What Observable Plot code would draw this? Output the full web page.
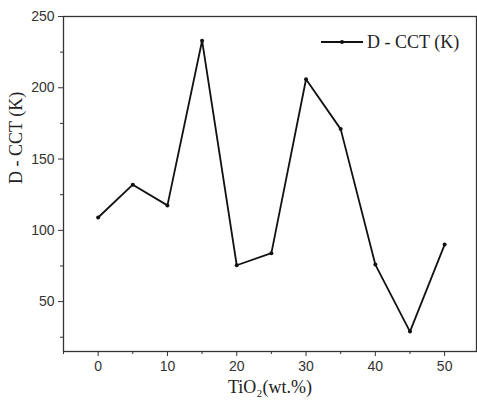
<!DOCTYPE html>
<html>
<head>
<meta charset="utf-8">
<script src="https://cdn.jsdelivr.net/npm/d3@7"></script>
<script src="https://cdn.jsdelivr.net/npm/@observablehq/plot@0.6"></script>
<style>
  html, body { margin: 0; padding: 0; background: #fff; }
</style>
</head>
<body>
<div id="chart"></div>
<script>
const tio2 = [0, 5, 10, 15, 20, 25, 30, 35, 40, 45, 50];
const dcct = [109, 132, 117.5, 233, 75.5, 84, 206, 171, 76, 29, 90];
const xTicks = [0, 10, 20, 30, 40, 50];
const xMinor = [-5, 5, 15, 25, 35, 45];
const yTicks = [50, 100, 150, 200, 250];
const yMinor = [25, 75, 125, 175, 225];
const seriesName = "D - CCT (K)";
const xLabel = "TiO\u2082(wt.%)";
const yLabel = "D - CCT (K)";

const data = tio2.map((x, i) => ({x, y: dcct[i]}));
const serif = "'Liberation Serif', 'Times New Roman', serif";
const sans = "'Liberation Sans', Arial, sans-serif";

const chart = Plot.plot({
  width: 477,
  height: 407,
  marginLeft: 63,
  marginRight: 1,
  marginTop: 16,
  marginBottom: 56,
  x: {domain: [-5, 54.6]},
  y: {domain: [15, 250]},
  style: {fontFamily: sans, fontSize: "14px", color: "#222", background: "#fff"},
  marks: [
    Plot.frame({stroke: "#333", strokeWidth: 1.3}),
    Plot.axisY({ticks: yTicks, tickSize: 5, tickPadding: 4, label: null, fontSize: 14, fill: "#333", stroke: "#333"}),
    Plot.axisY({ticks: yMinor, tickSize: 3, text: null, label: null, stroke: "#333"}),
    Plot.axisX({ticks: xTicks, tickSize: 5, tickPadding: 5, label: null, fontSize: 14, fill: "#333", stroke: "#333"}),
    Plot.axisX({ticks: xMinor, tickSize: 3, text: null, label: null, stroke: "#333"}),
    Plot.line(data, {x: "x", y: "y", stroke: "#111", strokeWidth: 1.8}),
    Plot.dot(data, {x: "x", y: "y", r: 2, fill: "#111"}),
    Plot.text([yLabel], {text: d => d, frameAnchor: "left", rotate: -90, dx: -47, fontFamily: serif, fontSize: 18, fill: "#222"}),
    Plot.text([xLabel], {text: d => d, frameAnchor: "bottom", dy: 41, fontFamily: serif, fontSize: 18, fill: "#222"})
  ]
});
document.getElementById("chart").appendChild(chart);

// legend
const svg = d3.select(chart);
const lg = svg.append("g");
lg.append("line").attr("x1", 321).attr("x2", 363).attr("y1", 42).attr("y2", 42)
  .attr("stroke", "#111").attr("stroke-width", 1.8);
lg.append("circle").attr("cx", 342).attr("cy", 42).attr("r", 2).attr("fill", "#111");
lg.append("text").attr("x", 367).attr("y", 48).text(seriesName)
  .attr("text-anchor", "start")
  .attr("font-family", serif).attr("font-size", 18).attr("fill", "#222");
</script>
</body>
</html>
